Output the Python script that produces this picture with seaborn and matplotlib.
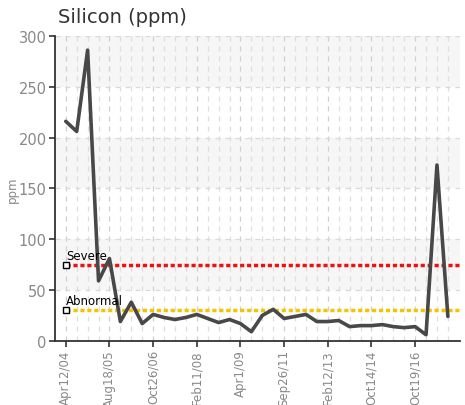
import matplotlib
matplotlib.use("Agg")
import matplotlib.pyplot as plt
import seaborn as sns
import pandas as pd
import numpy as np

values = [216, 206, 286, 59, 81, 19, 38, 17, 26, 23, 21, 23, 26, 22, 18, 21, 17, 9,
          25, 31, 22, 24, 26, 19, 19, 20, 14, 15, 15, 16, 14, 13, 14, 6, 173, 24]
tick_labels = ["Apr12/04", "Aug18/05", "Oct26/06", "Feb11/08", "Apr1/09",
               "Sep26/11", "Feb12/13", "Oct14/14", "Oct19/16"]
tick_step = 4
severe = 75
abnormal = 30
y_ticks = [0, 50, 100, 150, 200, 250, 300]

df = pd.DataFrame({"idx": np.arange(len(values)), "ppm": values})

sns.set_style("white")
fig = plt.figure(figsize=(4.65, 4.06), dpi=100)
ax = fig.add_axes([0.118, 0.158, 0.871, 0.751])

# alternating bands
for i, lo in enumerate(y_ticks[:-1]):
    if i % 2 == 1:
        ax.axhspan(lo, lo + 50, color="#f6f6f6", zorder=0, lw=0)

# grid
for i in range(len(values)):
    major = i % tick_step == 0
    ax.axvline(i, color="#cfcfcf" if major else "#dedede", ls=(0, (4, 4)), lw=0.9, zorder=1)
for yv in y_ticks[1:]:
    ax.axhline(yv, color="#dadada", ls=(0, (4, 4)), lw=0.9, zorder=1)

# thresholds
xmax = len(values)
ax.plot([0, xmax], [severe, severe], color="#ee1111", lw=2.5, ls=(0, (1.2, 0.8)), zorder=3)
ax.plot([0, xmax], [abnormal, abnormal], color="#f5c400", lw=2.5, ls=(0, (1.2, 0.8)), zorder=3)
ax.plot([0], [severe], marker="s", ms=4.5, mfc="white", mec="black", mew=1, zorder=5)
ax.plot([0], [abnormal], marker="s", ms=4.5, mfc="white", mec="black", mew=1, zorder=5)
ax.text(0, severe + 3, "Severe", fontsize=8.5, color="black", ha="left", va="bottom", zorder=6,
        fontfamily="Liberation Sans Narrow")
ax.text(0, abnormal + 3, "Abnormal", fontsize=8.5, color="black", ha="left", va="bottom", zorder=6,
        fontfamily="Liberation Sans Narrow")

sns.lineplot(data=df, x="idx", y="ppm", ax=ax, color="#484848", lw=2.6, zorder=4)

ax.set_xlim(-1, 36.1)
ax.set_ylim(0, 300)
ax.set_yticks(y_ticks)
ax.set_yticklabels([str(v) for v in y_ticks], color="#888888", fontsize=10.5,
                   fontfamily="Liberation Sans Narrow")
ax.set_xticks(list(range(0, len(values), tick_step))[:len(tick_labels)])
ax.set_xticklabels(tick_labels, rotation=90, color="#888888", fontsize=8.5,
                   fontfamily="Liberation Sans Narrow")
ax.tick_params(axis="both", direction="out", length=4, width=1.2, color="#333333",
               left=True, bottom=True, pad=2)
ax.set_xlabel("")
ax.set_ylabel("ppm", color="#888888", fontsize=8.5)
ax.yaxis.set_label_coords(-0.088, 0.5)

for s in ["top", "right"]:
    ax.spines[s].set_visible(False)
for s in ["left", "bottom"]:
    ax.spines[s].set_color("#333333")
    ax.spines[s].set_linewidth(1.3)

fig.text(0.125, 0.956, "Silicon (ppm)", fontsize=14, color="#333333", ha="left", va="center")

fig.savefig("out.png", dpi=100)
